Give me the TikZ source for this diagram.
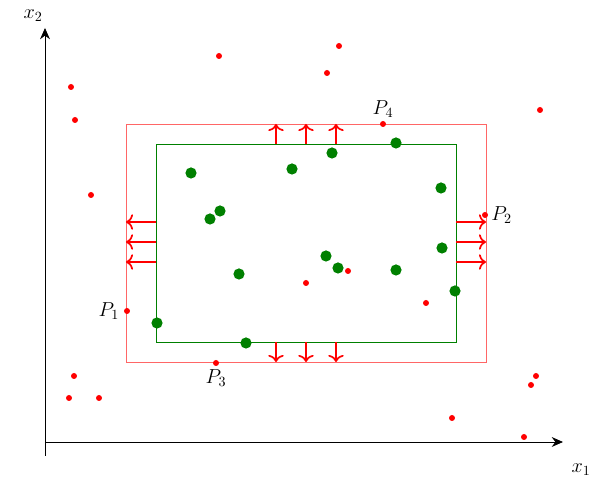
\documentclass[tikz,border=0pt]{standalone}
\usepackage{tikz}
\usetikzlibrary{arrows.meta}
\begin{document}
\begin{tikzpicture}[>={Stealth[length=8pt,width=7pt]},
	reddot/.style={fill=red,draw=none},
	greendot/.style={fill=green!50!black,draw=none},
	flow/.style={red,line width=1.2pt,-{To[length=5pt,width=11pt]}}]
	\useasboundingbox (-1.125,-1.075) rectangle (14.075,11.05);
	\draw[->,semithick] (0,-0.35)--(0,10.35);
	\draw[->,semithick] (0,0)--(12.95,0);
	\node (xone) at (13.4,-0.7) {\Large$x_1$};
	\node (xtwo) at (-0.3,10.65) {\Large$x_2$};
	% rectangles
	\draw[red!60,line width=0.6pt] (2.025,2) rectangle (11.025,7.95);
	\draw[green!50!black,line width=0.6pt] (2.775,2.5) rectangle (10.275,7.45);
	% arrows
	\foreach \x in {5.775,6.525,7.275}{
		\draw[flow] (\x,7.45)--(\x,7.95);
		\draw[flow] (\x,2.5)--(\x,2);
	}
	\foreach \y in {4.5,5,5.5}{
		\draw[flow] (2.775,\y)--(2.025,\y);
		\draw[flow] (10.275,\y)--(11.025,\y);
	}
	% points
	\foreach \p in {(7.35,9.9),(4.35,9.65),(7.05,9.225),(0.65,8.875),(12.375,8.3),(0.75,8.05),
		(1.15,6.175),(6.525,3.975),(7.575,4.275),(9.525,3.475),(0.725,1.65),(12.275,1.65),
		(0.6,1.1),(1.35,1.1),(12.15,1.425),(10.175,0.6),(11.975,0.125)}
		\fill[reddot] \p circle(0.075);
	\foreach \p in {(3.65,6.725),(6.175,6.825),(7.175,7.225),(8.775,7.475),(9.9,6.35),(4.375,5.775),
		(4.125,5.575),(9.925,4.85),(7.025,4.65),(7.325,4.35),(8.775,4.3),(4.85,4.2),
		(10.25,3.775),(2.8,2.975),(5.025,2.475)}
		\fill[greendot] \p circle(0.14);
	\fill[reddot] (2.05,3.275) circle(0.075) node[left=2pt] (pone) {\Large$P_1$};
	\fill[reddot] (11.0,5.675) circle(0.075) node[right=1pt] (ptwo) {\Large$P_2$};
	\fill[reddot] (4.275,1.975) circle(0.075) node[below=1pt] (pthree) {\Large$P_3$};
	\fill[reddot] (8.45,7.95) circle(0.075) node[above=1pt] (pfour) {\Large$P_4$};
\end{tikzpicture}
\end{document}
